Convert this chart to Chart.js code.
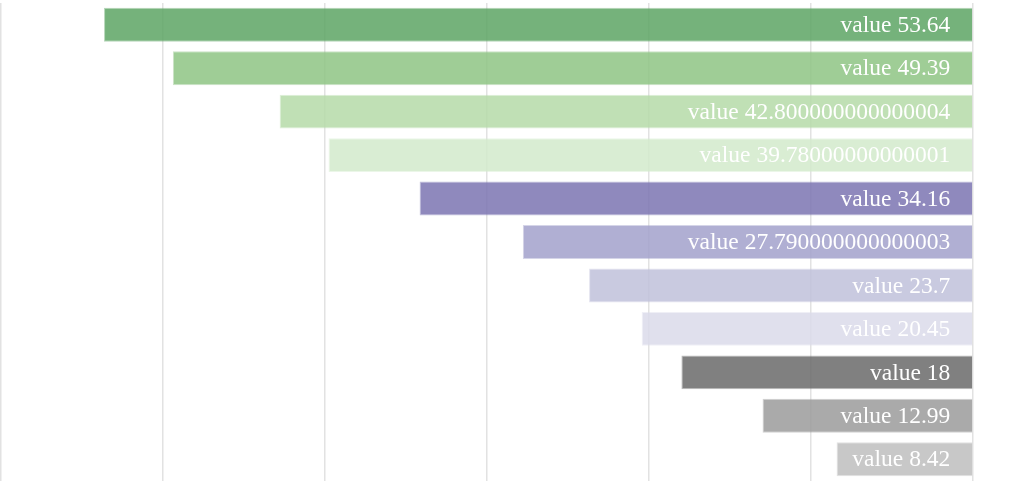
<!DOCTYPE html>
<html>
<head>
<meta charset="utf-8">
<script src="https://cdn.jsdelivr.net/npm/chart.js@4/dist/chart.umd.min.js"></script>
<style>
  html, body { margin: 0; padding: 0; background: #fff; }
  #wrap { width: 1022px; height: 482px; }
</style>
</head>
<body>
<div id="wrap"><canvas id="barChart"></canvas></div>
<script>
/* ==============================
   DATA
================================ */
const categories = ["g1", "g2", "g3", "g4", "p1", "p2", "p3", "p4", "k1", "k2", "k3"];
const values = [53.64, 49.39, 42.800000000000004, 39.78000000000001, 34.16,
                27.790000000000003, 23.7, 20.45, 18, 12.99, 8.42];
const barColors = [
    "rgba(93,164,100,0.85)", "rgba(142,196,132,0.85)", "rgba(181,219,168,0.85)", "rgba(210,234,203,0.85)",
    "rgba(123,116,178,0.85)", "rgba(162,161,203,0.85)", "rgba(192,193,219,0.85)", "rgba(219,219,234,0.85)",
    "rgba(106,106,106,0.85)", "rgba(155,155,155,0.85)", "rgba(190,190,190,0.85)"
];
const gridTicks = [0, 10, 20, 30, 40, 50, 60];

/* ==============================
   LABEL PLUGIN
================================ */
const valueLabels = {
    id: "valueLabels",
    afterDatasetsDraw(chart) {
        const ctx = chart.ctx;
        const meta = chart.getDatasetMeta(0);
        ctx.save();
        ctx.font = "23.5px 'Liberation Serif', 'DejaVu Serif', serif";
        ctx.fillStyle = "#fff";
        ctx.textAlign = "right";
        ctx.textBaseline = "middle";
        meta.data.forEach((bar, i) => {
            const right = Math.max(bar.x, bar.base);
            ctx.fillText("value " + values[i], right - 22, bar.y + 1);
        });
        ctx.restore();
    }
};

new Chart(document.getElementById("barChart"), {
    type: "bar",
    data: {
        labels: categories,
        datasets: [{
            data: values,
            backgroundColor: barColors,
            borderColor: barColors.map(c => c.replace("0.85)", "0.45)")),
            borderWidth: 1,
            categoryPercentage: 0.78,
            barPercentage: 1
        }]
    },
    options: {
        indexAxis: "y",
        responsive: true,
        maintainAspectRatio: false,
        animation: false,
        layout: { padding: { left: 1, right: 49, top: 3, bottom: 1 } },
        plugins: { legend: { display: false }, tooltip: { enabled: false } },
        scales: {
            x: {
                reverse: true,
                min: 0,
                max: 60,
                afterBuildTicks: axis => { axis.ticks = gridTicks.map(v => ({ value: v })); },
                ticks: { display: false },
                border: { display: false },
                grid: { color: "#e2e2e2", lineWidth: 1.5, drawTicks: false }
            },
            y: {
                display: false
            }
        }
    },
    plugins: [valueLabels]
});
</script>
</body>
</html>
